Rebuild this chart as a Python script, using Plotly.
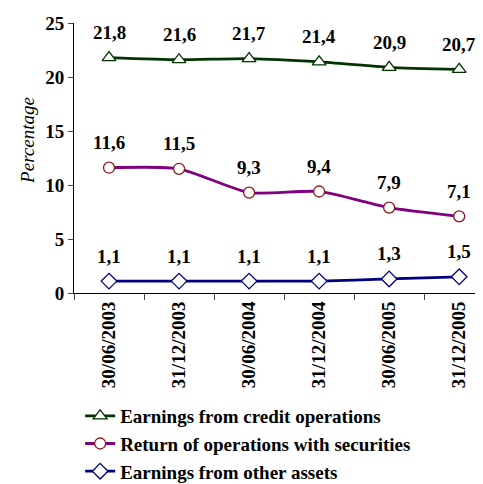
import plotly.graph_objects as go

datas = ["30/06/2003", "31/12/2003", "30/06/2004", "31/12/2004", "30/06/2005", "31/12/2005"]
credito = [21.8, 21.6, 21.7, 21.4, 20.9, 20.7]
titulos = [11.6, 11.5, 9.3, 9.4, 7.9, 7.1]
outros = [1.1, 1.1, 1.1, 1.1, 1.3, 1.5]

nomes = [
    "Earnings from credit operations",
    "Return of operations with securities",
    "Earnings from other assets",
]

FONTE = "Liberation Serif, Times New Roman, serif"


def negrito(tam):
    return dict(family=FONTE, size=tam, color="black", weight=700)


series = [
    (nomes[0], credito, "#003300", "#003300", "triangle-up", 12),
    (nomes[1], titulos, "#800080", "#8b1a1a", "circle", 11),
    (nomes[2], outros, "#000080", "#000080", "diamond", 12),
]

fig = go.Figure()
for nome, valores, cor, cor_marca, simbolo, tam in series:
    fig.add_trace(go.Scatter(
        x=datas, y=valores, name=nome, mode="lines+markers",
        line=dict(color=cor, width=2.8, shape="spline", smoothing=0.6),
        marker=dict(symbol=simbolo, size=tam, color="white",
                    line=dict(width=1.3, color=cor_marca)),
    ))
    # rótulos acima dos pontos, com vírgula decimal
    for d, v in zip(datas, valores):
        fig.add_annotation(
            x=d, y=v, text=f"{v:.1f}".replace(".", ","),
            showarrow=False, yshift=25, font=negrito(19),
        )

fig.add_annotation(
    xref="paper", yref="paper", x=-0.1125, y=0.567, text="<i>Percentage</i>",
    textangle=-90, showarrow=False, xanchor="center", yanchor="middle",
    font=dict(family=FONTE, size=19, color="black", weight=400),
)

# a página tem margem de 8px no body: a figura é 8px menor para caber na janela
fig.update_layout(
    width=475, height=476,
    margin=dict(l=66, r=0, t=15, b=191, autoexpand=False),
    paper_bgcolor="white", plot_bgcolor="white",
    font=negrito(19),
    showlegend=True,
    legend=dict(x=0.015, y=-0.385, xanchor="left", yanchor="top",
                font=negrito(19), itemwidth=30),
    xaxis=dict(type="category", range=[-0.5, 5.34], showline=True, linecolor="black",
               linewidth=1, ticks="outside", ticklen=6, tickson="boundaries",
               tickangle=-90, showgrid=False, zeroline=False, automargin=False,
               tickfont=negrito(19)),
    yaxis=dict(range=[0, 25], tickvals=[0, 5, 10, 15, 20, 25], showline=True,
               linecolor="black", linewidth=1, ticks="outside", ticklen=5,
               showgrid=False, zeroline=False, automargin=False,
               tickfont=negrito(19)),
)

fig.write_html("out.html")
